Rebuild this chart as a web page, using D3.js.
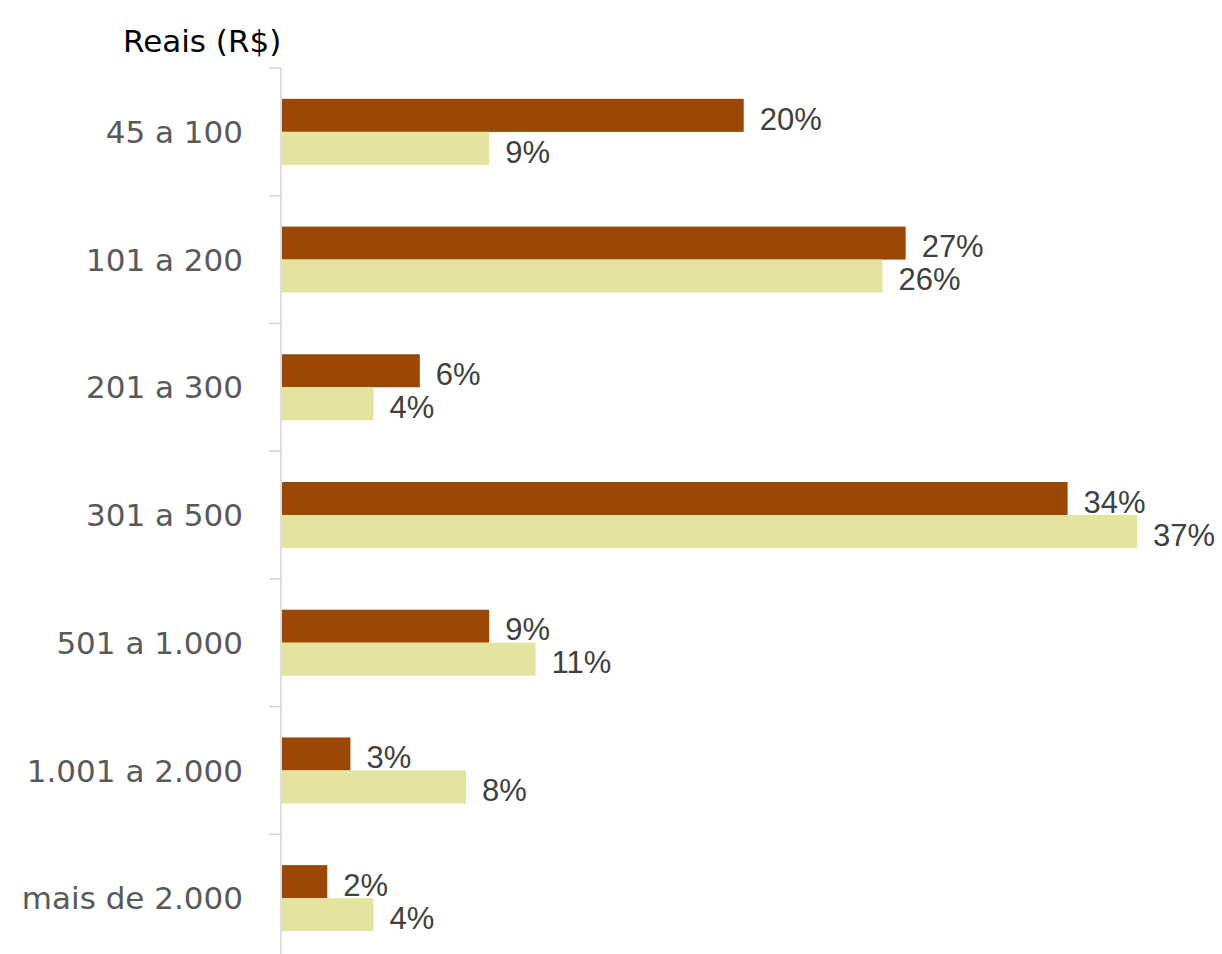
<!DOCTYPE html>
<html>
<head>
<meta charset="utf-8">
<script src="https://cdn.jsdelivr.net/npm/d3@7"></script>
<style>
  html, body { margin: 0; padding: 0; background: #fff; }
  svg { display: block; }
</style>
</head>
<body>
<svg id="chart" width="1222" height="954"></svg>
<script>
// Faixas de gasto (R$) e percentuais das duas séries
const categories = ["45 a 100", "101 a 200", "201 a 300", "301 a 500", "501 a 1.000", "1.001 a 2.000", "mais de 2.000"];
const seriesA = [20, 27, 6, 34, 9, 3, 2];
const seriesB = [9, 26, 4, 37, 11, 8, 4];
const seriesNames = ["A", "B"];
const seriesColors = ["#994805", "#E4E3A0"];
const axisTitle = "Reais (R$)";

const svg = d3.select("#chart");
const x0 = 281;
const plotTop = 68, plotBottom = 962;
const labelFont = "'DejaVu Sans', Verdana, sans-serif";
const valueFont = "'Liberation Sans', Arial, sans-serif";

const x = d3.scaleLinear().domain([0, 37]).range([x0, 1137]);
const y = d3.scaleBand().domain(categories).range([plotTop, plotBottom]).paddingInner(0).paddingOuter(0);
const inner = d3.scaleBand().domain(seriesNames).range([0, y.bandwidth()]).paddingInner(0).paddingOuter(0.935);

const rows = categories.map((c, i) => ({ cat: c, vals: [seriesA[i], seriesB[i]] }));

// Eixo vertical com marcas entre as categorias
const axis = svg.append("g");
axis.append("line")
  .attr("x1", x0).attr("x2", x0).attr("y1", plotTop).attr("y2", plotBottom)
  .attr("stroke", "#d4d4d4").attr("stroke-width", 1.5);
const tickYs = categories.map(c => y(c)).concat([plotBottom]);
axis.selectAll("line.tick").data(tickYs).join("line")
  .attr("class", "tick")
  .attr("x1", x0 - 12).attr("x2", x0).attr("y1", d => d).attr("y2", d => d)
  .attr("stroke", "#d4d4d4").attr("stroke-width", 1.5);

// Rótulos das categorias
svg.append("g").selectAll("text").data(categories).join("text")
  .attr("x", 243)
  .attr("y", d => y(d) + y.bandwidth() / 2)
  .attr("dy", "0.36em")
  .attr("text-anchor", "end")
  .attr("font-family", labelFont)
  .attr("font-size", 31)
  .attr("fill", "#595959")
  .text(d => d);

// Barras
const groups = svg.append("g").selectAll("g").data(rows).join("g")
  .attr("transform", d => `translate(0,${y(d.cat)})`);

groups.selectAll("rect").data(d => d.vals.map((v, j) => ({ v, s: seriesNames[j], j }))).join("rect")
  .attr("x", x(0) + 1)
  .attr("y", d => inner(d.s))
  .attr("width", d => x(d.v) - x(0) - 1)
  .attr("height", inner.bandwidth())
  .attr("fill", d => seriesColors[d.j]);

// Rótulos de valor
groups.selectAll("text").data(d => d.vals.map((v, j) => ({ v, s: seriesNames[j], j }))).join("text")
  .attr("x", d => x(d.v) + 16)
  .attr("y", d => inner(d.s) + inner.bandwidth() / 2 + 3)
  .attr("dy", "0.36em")
  .attr("font-family", valueFont)
  .attr("font-size", 31)
  .attr("fill", "#404040")
  .text(d => d.v + "%");

// Título do eixo
svg.append("text")
  .attr("x", 123).attr("y", 52)
  .attr("font-family", labelFont)
  .attr("font-size", 31)
  .attr("fill", "#000")
  .text(axisTitle);
</script>
</body>
</html>
